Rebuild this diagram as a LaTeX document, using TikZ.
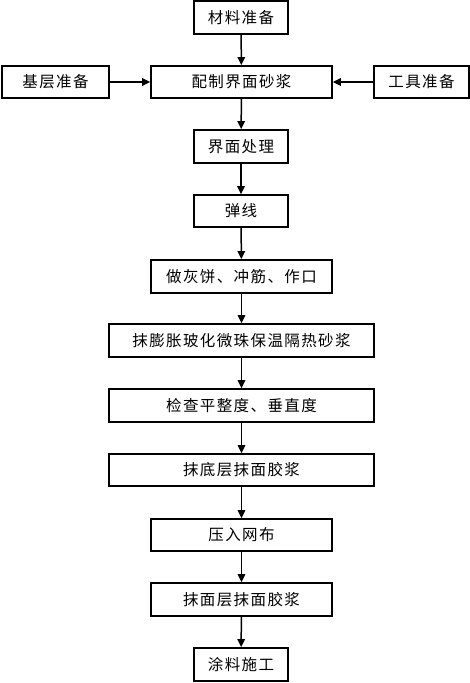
\documentclass[tikz,border=0pt]{standalone}
\usepackage{fontspec}
\newfontfamily\cjk[LetterSpace=9]{Noto Sans CJK SC}
\usetikzlibrary{arrows.meta}
\begin{document}
\begin{tikzpicture}[x=1pt,y=-1pt,
  box/.style={draw,line width=1.8pt,inner sep=0pt,font=\cjk\fontsize{15.5}{16}\selectfont},
  arr/.style={line width=1.5pt,-{Triangle[length=8pt,width=7.5pt]}}]
\useasboundingbox[fill=white] (0,0) rectangle (470,683);
\newcommand{\bx}[6]{\node[box,minimum width=#4-#2,minimum height=#5-#3] (#1) at ({(#2+#4)/2},{(#3+#5)/2}) {#6};}
\bx{a}{194}{1}{288}{34}{材料准备}
\bx{l}{2}{66}{109}{98}{基层准备}
\bx{b}{151}{66}{332}{98}{配制界面砂浆}
\bx{r}{374}{66}{469}{98}{工具准备}
\bx{c}{194}{130}{288}{163}{界面处理}
\bx{d}{194}{195}{288}{227}{弹线}
\bx{e}{151}{260}{332}{293}{做灰饼、冲筋、作口}
\bx{f}{109}{324}{374}{357}{抹膨胀玻化微珠保温隔热砂浆}
\bx{g}{109}{389}{374}{422}{检查平整度、垂直度}
\bx{h}{109}{454}{374}{486}{抹底层抹面胶浆}
\bx{i}{151}{519}{332}{551}{压入网布}
\bx{j}{151}{583}{332}{616}{抹面层抹面胶浆}
\bx{k}{194}{648}{288}{681}{涂料施工}
\draw[arr] (a) -- (b);
\draw[arr] (l) -- (b);
\draw[arr] (r) -- (b);
\draw[arr] (b) -- (c);
\draw[arr] (c) -- (d);
\draw[arr] (d) -- (e);
\draw[arr] (e) -- (f);
\draw[arr] (f) -- (g);
\draw[arr] (g) -- (h);
\draw[arr] (h) -- (i);
\draw[arr] (i) -- (j);
\draw[arr] (j) -- (k);
\end{tikzpicture}
\end{document}
